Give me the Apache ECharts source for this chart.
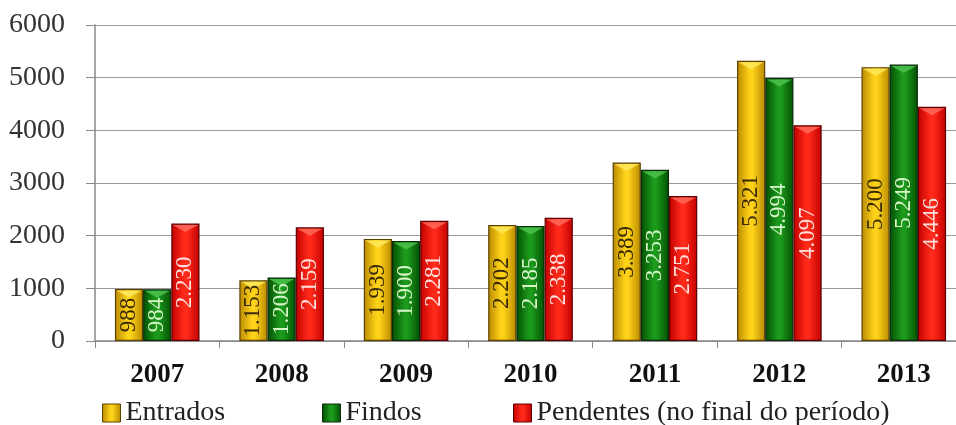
<!DOCTYPE html>
<html><head><meta charset="utf-8">
<script src="https://cdn.jsdelivr.net/npm/echarts@6/dist/echarts.min.js"></script>
<style>html,body{margin:0;padding:0;background:#fff}#c{width:956px;height:425px}</style>
</head><body><div id="c"></div>
<script>
const categories = ['2007','2008','2009','2010','2011','2012','2013'];
const entrados = [988, 1153, 1939, 2202, 3389, 5321, 5200];
const findos = [984, 1206, 1900, 2185, 3253, 4994, 5249];
const pendentes = [2230, 2159, 2281, 2338, 2751, 4097, 4446];
const seriesNames = ['Entrados', 'Findos', 'Pendentes (no final do período)'];
const yTicks = [0, 1000, 2000, 3000, 4000, 5000, 6000];

const FONT = '"Liberation Serif", "DejaVu Serif", serif';
const CAT_GAP = 0.32;
function fmt(v){ return String(v).replace(/\B(?=(\d{3})+(?!\d))/g, '.'); }
function grad(edge, mid){
  return new echarts.graphic.LinearGradient(0,0,1,0,[
    {offset:0, color:edge},{offset:0.45, color:mid},{offset:0.55, color:mid},{offset:1, color:edge}
  ]);
}
const styles = [
  {edge:'#b88a00', mid:'#ffd21a', border:'#5c4200', text:'#3a2a00', top:'#ffe95a'},
  {edge:'#034f03', mid:'#1c9a1c', border:'#0b2a0b', text:'#d8f5c8', top:'#4cc24c'},
  {edge:'#c20000', mid:'#ff2a1a', border:'#5a0000', text:'#ffe0dc', top:'#ff6a5a'}
];
const dataSets = [entrados, findos, pendentes];
const chart = echarts.init(document.getElementById('c'));
const series = dataSets.map((d,i)=>({
  name: seriesNames[i], type:'bar', data:d,
  barGap:'0%', barCategoryGap:(CAT_GAP*100)+'%',
  itemStyle:{color:grad(styles[i].edge, styles[i].mid), borderColor:styles[i].border, borderWidth:1.2},
  label:{show:false},
  emphasis:{disabled:true}, z:2
}));
// bevel chevrons and value labels on the bars, positioned via the axis scales
const overlayData = [];
dataSets.forEach((d,s)=>d.forEach((v,c)=>overlayData.push([c, v, s])));
series.push({
  type:'custom', data:overlayData, z:3, silent:true,
  renderItem:(params, api)=>{
    const c = api.value(0), v = api.value(1), s = api.value(2);
    const p = api.coord([c, v]);
    const p0 = api.coord([c, 0]);
    const band = api.size([1,0])[0];
    const bw = band*(1-CAT_GAP)/3;
    const cx = p[0] + (s-1)*bw;
    const half = bw/2 - 1.5;
    const h = 7;
    return {type:'group', children:[
      {type:'polygon', z2:1, shape:{points:[[cx-half, p[1]+1.5],[cx+half, p[1]+1.5],[cx, p[1]+1.5+h]]},
        style:{fill:styles[s].top, opacity:0.85}},
      {type:'text', z2:2, x:cx, y:(p[1]+p0[1])/2, rotation:Math.PI/2,
        style:{text:fmt(v), fill:styles[s].text, font:'23px '+FONT, align:'center', verticalAlign:'middle'}}
    ]};
  }
});
function legend(i, left){
  return {data:[{name:seriesNames[i], itemStyle:{color:grad(styles[i].edge, styles[i].mid), borderColor:styles[i].border, borderWidth:1}}],
    left:left, top:394, icon:'rect', itemWidth:18, itemHeight:18, itemGap:6,
    textStyle:{fontFamily:FONT, fontSize:28, color:'#222'}, selectedMode:false};
}
chart.setOption({
  animation:false,
  grid:{left:95, width:871, top:25, bottom:84, outerBoundsMode:'none', containLabel:false},
  legend:[legend(0,97), legend(1,317), legend(2,508)],
  xAxis:{type:'category', data:categories,
    axisLine:{lineStyle:{color:'#888', width:1.5}},
    axisTick:{show:true, length:7, lineStyle:{color:'#888'}},
    axisLabel:{fontFamily:FONT, fontSize:27, fontWeight:'bold', color:'#111', margin:21}},
  yAxis:{type:'value', min:0, max:6000, interval:1000,
    axisLine:{show:true, lineStyle:{color:'#888', width:1.5}},
    axisTick:{show:true, inside:false, length:9, lineStyle:{color:'#888'}},
    splitLine:{lineStyle:{color:'#999', width:1.2}},
    axisLabel:{fontFamily:FONT, fontSize:28, color:'#333', margin:30,
      formatter:v=> yTicks.includes(v) ? String(v) : ''}},
  series: series
});
</script></body></html>
